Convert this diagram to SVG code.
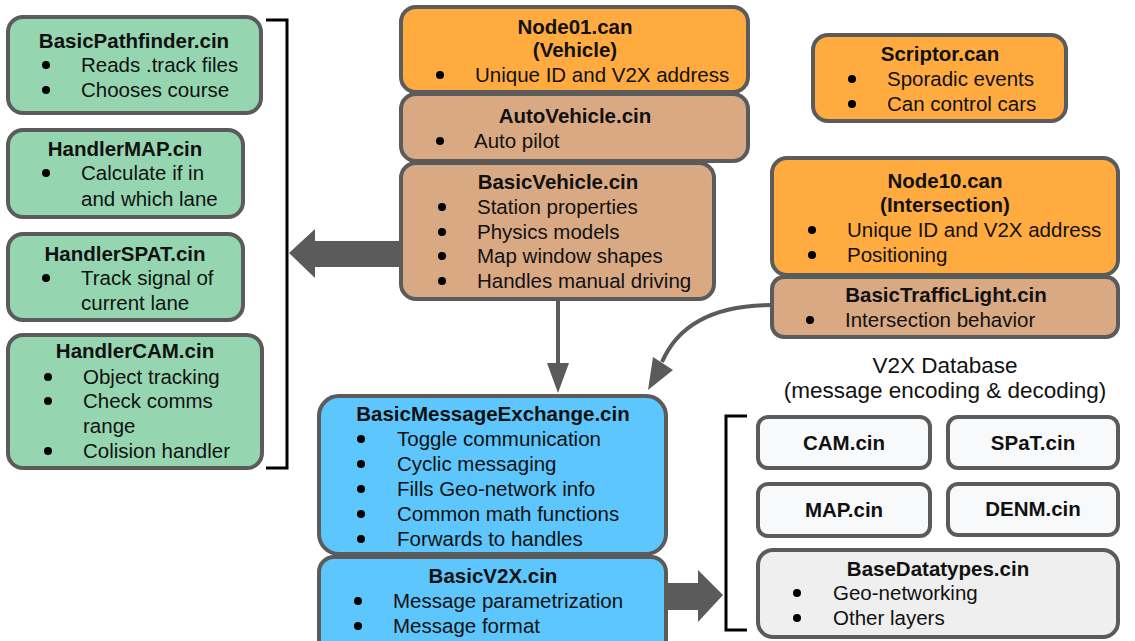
<svg xmlns="http://www.w3.org/2000/svg" width="1135" height="641" viewBox="0 0 1135 641">
  <style>
    .box { stroke: #5b5b5b; stroke-width: 4; }
    .green { fill: #95d6b1; }
    .orange { fill: #ffab40; }
    .tan { fill: #d9a984; }
    .blue { fill: #5cc6fd; }
    .light { fill: #f8f9fa; }
    .grey { fill: #efefef; }
    text { font-family: "Liberation Sans", Arial, sans-serif; font-size: 20.5px; fill: #111; }
    .t { font-weight: bold; text-anchor: middle; }
    .c { text-anchor: middle; font-size: 22.5px; }
    .dot { fill: #000; }
    .bracket { fill: none; stroke: #000; stroke-width: 3; }
    .link { fill: none; stroke: #5b5b5b; stroke-width: 4; }
    .fat { fill: #5b5b5b; }
  </style>

  <rect width="1135" height="641" fill="#ffffff"/>

  <!-- connectors: brackets, block arrows and the two thin arrows -->
  <g id="connectors">
    <path class="bracket" d="M266,20 H287 V468 H266"/>
    <path class="bracket" d="M747,416 H726 V630 H747"/>
    <!-- BasicVehicle -> handlers -->
    <path class="fat" d="M402,241 H315 V229 L289,253 L315,278 V267 H402 z"/>
    <!-- BasicV2X -> database -->
    <path class="fat" d="M664,583 H698 V570 L723,595 L698,622 V610 H664 z"/>
    <!-- BasicVehicle -> BasicMessageExchange -->
    <line class="link" x1="558" y1="300" x2="558" y2="364"/>
    <path class="fat" d="M547,363 L569,363 L558,393 z"/>
    <!-- BasicTrafficLight -> BasicMessageExchange -->
    <path class="link" d="M772,305 C722,305 680,320 662,362"/>
    <path class="fat" d="M653,357 L673,370 L648,390 z"/>
  </g>

  <g id="basicpathfinder">
    <rect class="box green" x="8" y="17" width="253" height="96" rx="15"/>
    <text class="t" x="134" y="48">BasicPathfinder.cin</text>
    <circle class="dot" cx="46" cy="65" r="4"/>
    <text x="81" y="72">Reads .track files</text>
    <circle class="dot" cx="46" cy="90" r="4"/>
    <text x="81" y="97">Chooses course</text>
  </g>

  <g id="handlermap">
    <rect class="box green" x="8" y="130" width="235" height="87" rx="15"/>
    <text class="t" x="125" y="156">HandlerMAP.cin</text>
    <circle class="dot" cx="46" cy="173" r="4"/>
    <text x="81" y="180">Calculate if in</text>
    <text x="81" y="206">and which lane</text>
  </g>

  <g id="handlerspat">
    <rect class="box green" x="8" y="234" width="235" height="86" rx="15"/>
    <text class="t" x="125" y="261">HandlerSPAT.cin</text>
    <circle class="dot" cx="46" cy="278" r="4"/>
    <text x="81" y="285">Track signal of</text>
    <text x="81" y="310">current lane</text>
  </g>

  <g id="handlercam">
    <rect class="box green" x="8" y="335" width="254" height="133" rx="15"/>
    <text class="t" x="135" y="358">HandlerCAM.cin</text>
    <circle class="dot" cx="48" cy="377" r="4"/>
    <text x="83" y="384">Object tracking</text>
    <circle class="dot" cx="48" cy="401" r="4"/>
    <text x="83" y="408">Check comms</text>
    <text x="83" y="433">range</text>
    <circle class="dot" cx="48" cy="451" r="4"/>
    <text x="83" y="458">Colision handler</text>
  </g>

  <g id="node01">
    <rect class="box orange" x="401" y="7" width="347" height="85" rx="15"/>
    <text class="t" x="575" y="34">Node01.can</text>
    <text class="t" x="575" y="57">(Vehicle)</text>
    <circle class="dot" cx="440" cy="75" r="4"/>
    <text x="475" y="82">Unique ID and V2X address</text>
  </g>

  <g id="autovehicle">
    <rect class="box tan" x="401" y="94" width="347" height="67" rx="15"/>
    <text class="t" x="575" y="123">AutoVehicle.cin</text>
    <circle class="dot" cx="440" cy="141" r="4"/>
    <text x="474" y="148">Auto pilot</text>
  </g>

  <g id="basicvehicle">
    <rect class="box tan" x="401" y="163" width="313" height="136" rx="15"/>
    <text class="t" x="558" y="189">BasicVehicle.cin</text>
    <circle class="dot" cx="442" cy="207" r="4"/>
    <text x="477" y="214">Station properties</text>
    <circle class="dot" cx="442" cy="232" r="4"/>
    <text x="477" y="239">Physics models</text>
    <circle class="dot" cx="442" cy="256" r="4"/>
    <text x="477" y="263">Map window shapes</text>
    <circle class="dot" cx="442" cy="281" r="4"/>
    <text x="477" y="288">Handles manual driving</text>
  </g>

  <g id="scriptor">
    <rect class="box orange" x="813" y="35" width="253" height="86" rx="15"/>
    <text class="t" x="940" y="61">Scriptor.can</text>
    <circle class="dot" cx="852" cy="79" r="4"/>
    <text x="887" y="86">Sporadic events</text>
    <circle class="dot" cx="852" cy="104" r="4"/>
    <text x="887" y="111">Can control cars</text>
  </g>

  <g id="node10">
    <rect class="box orange" x="772" y="158" width="346" height="117" rx="15"/>
    <text class="t" x="945" y="188">Node10.can</text>
    <text class="t" x="945" y="212">(Intersection)</text>
    <circle class="dot" cx="812" cy="230" r="4"/>
    <text x="847" y="237">Unique ID and V2X address</text>
    <circle class="dot" cx="812" cy="255" r="4"/>
    <text x="847" y="262">Positioning</text>
  </g>

  <g id="basictrafficlight">
    <rect class="box tan" x="772" y="277" width="346" height="60" rx="12"/>
    <text class="t" x="946" y="302">BasicTrafficLight.cin</text>
    <circle class="dot" cx="810" cy="320" r="4"/>
    <text x="845" y="327">Intersection behavior</text>
  </g>

  <g id="v2xdatabase-label">
    <text class="c" x="945" y="373">V2X Database</text>
    <text class="c" x="945" y="398">(message encoding &amp; decoding)</text>
  </g>

  <g id="basicmessageexchange">
    <rect class="box blue" x="319" y="396" width="347" height="158" rx="20"/>
    <text class="t" x="493" y="421">BasicMessageExchange.cin</text>
    <circle class="dot" cx="361" cy="439" r="4"/>
    <text x="397" y="446">Toggle communication</text>
    <circle class="dot" cx="361" cy="464" r="4"/>
    <text x="397" y="471">Cyclic messaging</text>
    <circle class="dot" cx="361" cy="489" r="4"/>
    <text x="397" y="496">Fills Geo-network info</text>
    <circle class="dot" cx="361" cy="514" r="4"/>
    <text x="397" y="521">Common math functions</text>
    <circle class="dot" cx="361" cy="539" r="4"/>
    <text x="397" y="546">Forwards to handles</text>
  </g>

  <g id="basicv2x">
    <rect class="box blue" x="319" y="557" width="347" height="100" rx="15"/>
    <text class="t" x="493" y="583">BasicV2X.cin</text>
    <circle class="dot" cx="358" cy="601" r="4"/>
    <text x="393" y="608">Message parametrization</text>
    <circle class="dot" cx="358" cy="626" r="4"/>
    <text x="393" y="633">Message format</text>
  </g>

  <g id="cam">
    <rect class="box light" x="758" y="417" width="172" height="51" rx="10"/>
    <text class="t" x="844" y="450">CAM.cin</text>
  </g>

  <g id="spat">
    <rect class="box light" x="948" y="417" width="170" height="51" rx="10"/>
    <text class="t" x="1033" y="450">SPaT.cin</text>
  </g>

  <g id="map">
    <rect class="box light" x="758" y="484" width="172" height="52" rx="10"/>
    <text class="t" x="844" y="517">MAP.cin</text>
  </g>

  <g id="denm">
    <rect class="box light" x="948" y="484" width="170" height="51" rx="10"/>
    <text class="t" x="1033" y="516">DENM.cin</text>
  </g>

  <g id="basedatatypes">
    <rect class="box grey" x="758" y="550" width="360" height="87" rx="15"/>
    <text class="t" x="938" y="576">BaseDatatypes.cin</text>
    <circle class="dot" cx="797" cy="593" r="4"/>
    <text x="833" y="600">Geo-networking</text>
    <circle class="dot" cx="797" cy="618" r="4"/>
    <text x="833" y="625">Other layers</text>
  </g>
</svg>
